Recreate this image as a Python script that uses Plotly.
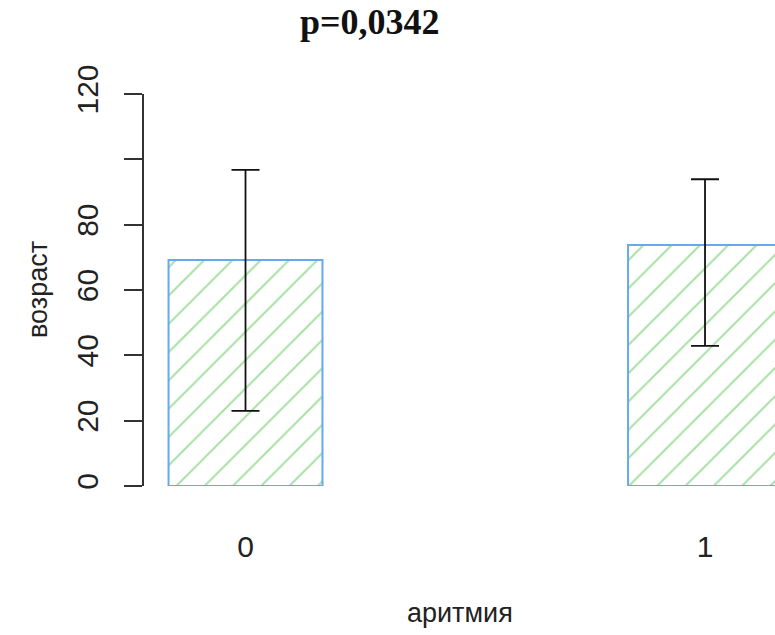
import plotly.graph_objects as go

categories = ["0", "1"]
means = [69.2, 73.8]
err_plus = [27.6, 20.1]
err_minus = [46.2, 30.9]
y_ticks = [0, 20, 40, 60, 80, 100, 120]
y_ticklabels = ["0", "20", "40", "60", "80", "", "120"]

xpos = list(range(len(categories)))

fig = go.Figure()
fig.add_trace(go.Bar(
    x=xpos, y=means, width=0.335,
    marker=dict(
        color="white",
        line=dict(color="rgb(100,170,240)", width=2),
        pattern=dict(shape="/", fgcolor="rgb(80,195,70)", bgcolor="white",
                     size=20, solidity=0.1, fillmode="overlay"),
    ),
    error_y=dict(type="data", symmetric=False, array=err_plus, arrayminus=err_minus,
                 color="#111", thickness=1.8, width=14),
    showlegend=False,
))

fig.update_layout(
    width=775, height=635,
    margin=dict(l=144, r=0, t=94, b=149),
    paper_bgcolor="white", plot_bgcolor="white",
    font=dict(family="Liberation Sans, Arial, sans-serif", size=27, color="#222"),
    xaxis=dict(range=[-0.2209, 1.1523], tickvals=xpos, ticktext=categories,
               ticks="", showline=False, showgrid=False, zeroline=False,
               ticklabelstandoff=40, tickfont=dict(size=30)),
    yaxis=dict(range=[0, 120], tickvals=y_ticks, ticktext=y_ticklabels,
               tickangle=-90, ticks="outside", ticklen=18, tickwidth=1.8, tickcolor="#333",
               showline=True, linecolor="#333", linewidth=1.8,
               showgrid=False, zeroline=False, ticklabelstandoff=14,
               tickfont=dict(size=30)),
    annotations=[
        dict(text="<b>p=0,0342</b>", xref="paper", yref="paper", x=(370-144)/631, y=(486-22)/392,
             showarrow=False,
             font=dict(family="Liberation Serif, Times New Roman, serif", size=36, color="#111"),
             xanchor="center", yanchor="middle"),
        dict(text="аритмия", xref="paper", yref="paper", x=(460-144)/631, y=-(613-486)/392,
             showarrow=False, xanchor="center", yanchor="middle"),
        dict(text="возраст", xref="paper", yref="paper", x=-(144-38)/631, y=(486-290)/392,
             showarrow=False, textangle=-90, xanchor="center", yanchor="middle"),
    ],
)

fig.write_html("out.html")
